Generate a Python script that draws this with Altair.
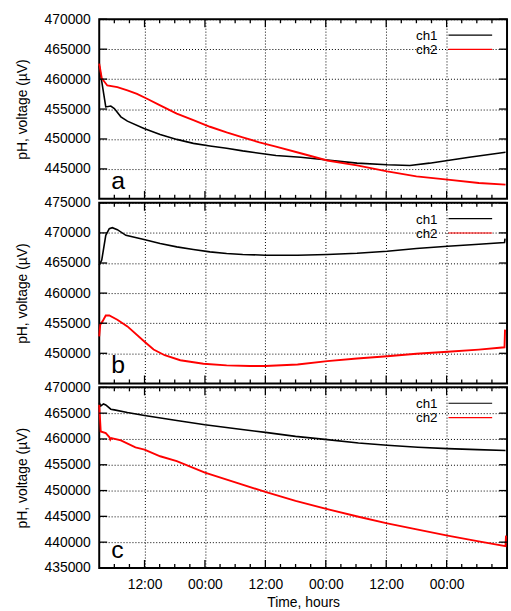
import altair as alt
import pandas as pd

FONT = "Liberation Sans"

# series names / colours
names = ["ch1", "ch2"]
colors = ["#000000", "#ff0000"]

# x in hours since 03:00 of the first day
x_major = [9, 21, 33, 45, 57, 69]
x_major_labels = ["12:00", "00:00", "12:00", "00:00", "12:00", "00:00"]
x_minor = [3, 6, 12, 15, 18, 24, 27, 30, 36, 39, 42, 48, 51, 54, 60, 63, 66, 72, 75, 78]
x_domain = [0, 81]

# panel a
a_ch1_h = [0, 1.3, 2.3, 3.0, 4.3, 5.6, 8.9, 12.1, 15.4, 18.7, 22, 25.3, 28.5, 31.8, 35.1, 40, 45.3, 51.2, 57.2, 61.7, 65.6, 69.2, 73.5, 80.7]
a_ch1_v = [462250, 455350, 455500, 455070, 453700, 452980, 451760, 450760, 449930, 449270, 448840, 448450, 448010, 447620, 447240, 446960, 446480, 445960, 445690, 445580, 445960, 446410, 446960, 447790]
a_ch2_h = [0, 0.5, 1.6, 3.6, 5.6, 7.5, 9.5, 12.1, 15.4, 18.7, 22, 25.3, 28.5, 31.8, 35.1, 40, 45.3, 51.2, 57.2, 63, 69.2, 75.4, 80.7]
a_ch2_v = [462600, 460150, 458940, 458660, 458110, 457550, 456720, 455620, 454240, 453140, 452040, 451090, 450270, 449440, 448730, 447620, 446400, 445580, 444590, 443760, 443210, 442650, 442380]
a_domain = [440000, 470000]
a_yticks = [445000, 450000, 455000, 460000, 465000, 470000]

# panel b
b_ch1_h = [0, 0.5, 1.3, 2.0, 2.6, 3.6, 5.3, 8.9, 12.1, 15.4, 18.7, 22, 25.3, 28.5, 33, 39.4, 45.3, 51.2, 57.2, 63, 69.2, 75.4, 80.5, 80.6]
b_ch1_v = [464650, 465480, 469600, 470710, 470870, 470540, 469600, 468890, 468230, 467680, 467240, 466850, 466580, 466420, 466300, 466300, 466420, 466630, 466960, 467410, 467790, 468120, 468400, 469060]
b_ch2_h = [0, 0.2, 0.65, 1.3, 2.0, 3.6, 5.6, 8.9, 10.8, 13, 16.1, 20.7, 25.3, 29.9, 33, 39.4, 45.3, 51.2, 57.2, 63, 69.2, 75.4, 80.5, 80.6]
b_ch2_v = [452820, 454750, 455300, 456290, 456290, 455580, 454470, 451990, 450620, 449680, 448850, 448270, 447990, 447880, 447880, 448150, 448700, 449140, 449520, 449920, 450250, 450620, 451000, 453930]
b_domain = [445000, 475000]
b_yticks = [450000, 455000, 460000, 465000, 470000, 475000]

# panel c
c_ch1_h = [0, 0.3, 0.85, 1.3, 2.3, 3.0, 5.6, 9, 15.4, 21, 27.2, 33, 39, 45.3, 51.5, 57.2, 63.3, 69.2, 75.1, 80.7]
c_ch1_v = [467040, 466400, 466790, 466600, 465770, 465640, 465120, 464540, 463580, 462750, 461980, 461270, 460500, 459870, 459230, 458770, 458380, 458130, 457940, 457750]
c_ch2_h = [0, 0.3, 1.3, 2.0, 2.2, 2.4, 4.3, 7.2, 9, 12.1, 15.4, 21, 27.2, 33, 39, 45.3, 51.5, 57.2, 63.3, 69.2, 75.1, 80.7, 80.8]
c_ch2_v = [466600, 461460, 461150, 460380, 459870, 460190, 459730, 458380, 457940, 456650, 455690, 453460, 451540, 449730, 448000, 446400, 444920, 443650, 442420, 441270, 440190, 439230, 441270]
c_domain = [435000, 470000]
c_yticks = [435000, 440000, 445000, 450000, 455000, 460000, 465000, 470000]

W = 411
Y_TITLE = "pH, voltage (µV)"
X_TITLE = "Time, hours"

label_expr = " : ".join(
    f"datum.value == {v} ? '{l}'" for v, l in zip(x_major, x_major_labels)
) + " : ''"


def panel(h1, v1, h2, v2, dom, yticks, letter, height, bottom):
    df = pd.concat([
        pd.DataFrame({"h": h1, "v": v1, "s": names[0]}),
        pd.DataFrame({"h": h2, "v": v2, "s": names[1]}),
    ])
    xscale = alt.Scale(domain=x_domain, nice=False, zero=False)
    yscale = alt.Scale(domain=dom, nice=False, zero=False)
    if bottom:
        xaxis = alt.Axis(values=x_major, labelExpr=label_expr, title=X_TITLE, grid=True,
                         ticks=False, domain=False, labelPadding=10, titlePadding=4,
                         labelOverlap=False)
    else:
        xaxis = alt.Axis(values=x_major, labels=False, title=None, grid=True,
                         ticks=False, domain=False)
    yaxis = alt.Axis(values=yticks, title=Y_TITLE, grid=True, ticks=False, domain=False,
                     labelPadding=9, titlePadding=15, format="d", labelOverlap=False)

    xe = alt.X("h:Q", scale=xscale, axis=xaxis)
    ye = alt.Y("v:Q", scale=yscale, axis=yaxis)

    lines = alt.Chart(df).mark_line().encode(
        x=xe, y=ye,
        color=alt.Color("s:N", scale=alt.Scale(domain=names, range=colors), legend=None),
        strokeWidth=alt.StrokeWidth("s:N", scale=alt.Scale(domain=names, range=[1.6, 1.9]), legend=None),
    )

    maj = pd.DataFrame({"h": x_major})
    mnr = pd.DataFrame({"h": x_minor})
    yt = pd.DataFrame({"v": yticks})
    rs = dict(color="black", strokeWidth=1.3)
    layers = [lines]
    layers.append(alt.Chart(maj).mark_rule(**rs).encode(x=xe, y=alt.value(0), y2=alt.value(8)))
    layers.append(alt.Chart(maj).mark_rule(**rs).encode(x=xe, y=alt.value(height), y2=alt.value(height - 8)))
    layers.append(alt.Chart(mnr).mark_rule(**rs).encode(x=xe, y=alt.value(0), y2=alt.value(4)))
    layers.append(alt.Chart(mnr).mark_rule(**rs).encode(x=xe, y=alt.value(height), y2=alt.value(height - 4)))
    layers.append(alt.Chart(yt).mark_rule(**rs).encode(y=ye, x=alt.value(0), x2=alt.value(8)))
    layers.append(alt.Chart(yt).mark_rule(**rs).encode(y=ye, x=alt.value(W), x2=alt.value(W - 8)))

    for i, (nm, col) in enumerate(zip(names, colors)):
        ldf = pd.DataFrame({"t": [nm]})
        layers.append(alt.Chart(ldf).mark_text(align="right", baseline="alphabetic", fontSize=13.5,
                                               font=FONT, color="black").encode(
            text="t:N", x=alt.value(341), y=alt.value(21 + 14.4 * i)))
        layers.append(alt.Chart(ldf).mark_rule(color=col, strokeWidth=1.2).encode(
            x=alt.value(352), x2=alt.value(396), y=alt.value(16 + 14.4 * i)))

    layers.append(alt.Chart(pd.DataFrame({"t": [letter]})).mark_text(
        align="left", baseline="alphabetic", fontSize=25, font=FONT, color="black").encode(
        text="t:N", x=alt.value(12), y=alt.value(height - 10)))

    return alt.layer(*layers).properties(width=W, height=height)


pa = panel(a_ch1_h, a_ch1_v, a_ch2_h, a_ch2_v, a_domain, a_yticks, "a", 181, False)
pb = panel(b_ch1_h, b_ch1_v, b_ch2_h, b_ch2_v, b_domain, b_yticks, "b", 182, False)
pc = panel(c_ch1_h, c_ch1_v, c_ch2_h, c_ch2_v, c_domain, c_yticks, "c", 182, True)

chart = alt.vconcat(pa, pb, pc, spacing=4, bounds="flush").resolve_scale(
    x="independent", y="independent", color="independent"
).properties(
    padding={"left": 14, "top": 9, "right": 0, "bottom": 0},
    background="white",
).configure(font=FONT).configure_view(
    stroke="black", strokeWidth=2
).configure_axis(
    labelFont=FONT, labelFontSize=14, labelColor="black",
    titleFont=FONT, titleFontSize=14, titleFontWeight="normal", titleColor="black",
    gridColor="black", gridDash=[1, 2], gridOpacity=1, gridWidth=1,
)

chart.save("out.html", embed_options={"renderer": "svg", "actions": False})
